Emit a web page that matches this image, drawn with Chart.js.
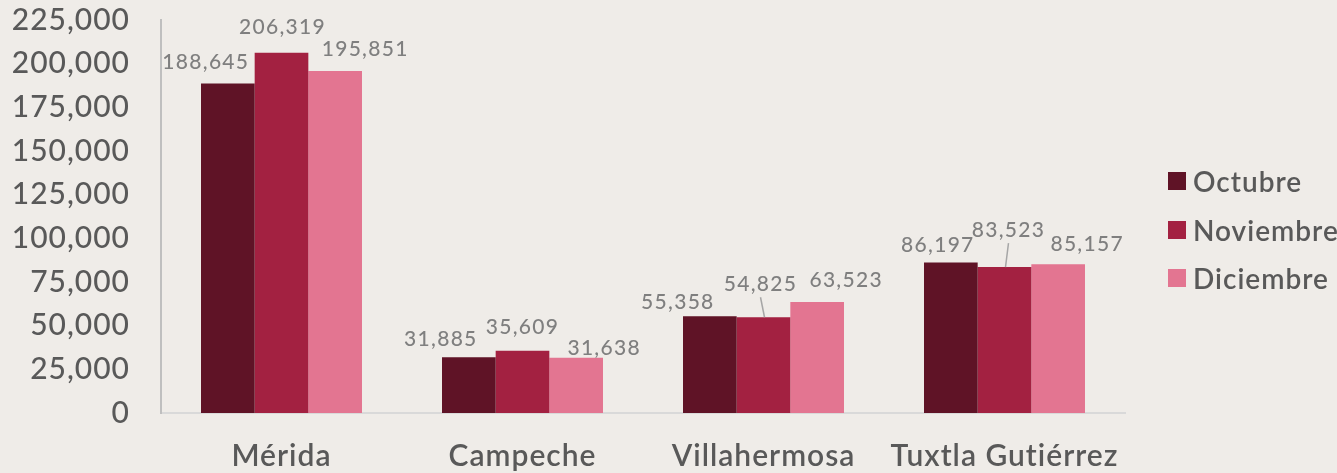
<!DOCTYPE html>
<html>
<head>
<meta charset="utf-8">
<script src="https://cdn.jsdelivr.net/npm/chart.js@4/dist/chart.umd.min.js"></script>
<style>
  html, body { margin: 0; padding: 0; background: #efece8; }
  #wrap { position: relative; width: 1337px; height: 473px; }
  #legend { position: absolute; left: 1168px; top: 157px; font-family: Lato, sans-serif;
            font-size: 28px; font-weight: 600; color: #595959; letter-spacing: 1px; }
  #legend div { height: 48.5px; display: flex; align-items: center; white-space: nowrap; }
  #legend span { display: inline-block; width: 18px; height: 18px; margin-right: 7px; }
</style>
</head>
<body>
<div id="wrap">
  <canvas id="myChart" width="1337" height="473"></canvas>
  <div id="legend"></div>
</div>
<script>
var cities = ['Mérida', 'Campeche', 'Villahermosa', 'Tuxtla Gutiérrez'];
var months = ['Octubre', 'Noviembre', 'Diciembre'];
var octubre = [188645, 31885, 55358, 86197];
var noviembre = [206319, 35609, 54825, 83523];
var diciembre = [195851, 31638, 63523, 85157];
var colors = ['#5f1326', '#a32141', '#e37591'];

// label nudges (px) relative to the top centre of each bar
var labelDx = [[-22, -28, -32, -13], [1, 0, -3, 4], [30, 28, 29, 29]];
var labelDy = [[-21, -18, -14, -17], [-25, -24, -33, -37], [-22, -10, -22, -20]];

// text in the reference is a little wider, so space the letters out
var spacing = {
    id: 'spacing',
    beforeLayout: function(chart) { chart.ctx.letterSpacing = '1px'; },
    beforeDraw: function(chart) { chart.ctx.letterSpacing = '1px'; }
};

var valueLabels = {
    id: 'valueLabels',
    afterDatasetsDraw: function(chart) {
        var ctx = chart.ctx;
        ctx.save();
        ctx.font = '500 21px Lato';
        ctx.letterSpacing = '1.3px';
        ctx.fillStyle = '#7f7f7f';
        ctx.strokeStyle = '#a6a6a6';
        ctx.lineWidth = 1.5;
        ctx.textAlign = 'center';
        ctx.textBaseline = 'middle';
        chart.data.datasets.forEach(function(ds, i) {
            chart.getDatasetMeta(i).data.forEach(function(bar, j) {
                var x = bar.x + labelDx[i][j];
                var y = bar.y + labelDy[i][j];
                ctx.fillText(ds.data[j].toLocaleString('en-US'), x, y);
                if (labelDy[i][j] < -30) {
                    ctx.beginPath();
                    ctx.moveTo(x, y + 13);
                    ctx.lineTo(bar.x + 1, bar.y);
                    ctx.stroke();
                }
            });
        });
        ctx.restore();
    }
};

var ctx = document.getElementById('myChart').getContext('2d');
var myChart = new Chart(ctx, {
    type: 'bar',
    data: {
        labels: cities,
        datasets: [
            { label: months[0], data: octubre, backgroundColor: colors[0] },
            { label: months[1], data: noviembre, backgroundColor: colors[1] },
            { label: months[2], data: diciembre, backgroundColor: colors[2] }
        ]
    },
    options: {
        responsive: false,
        animation: false,
        layout: { padding: { top: 20, right: 212, left: 0, bottom: 0 } },
        datasets: { bar: { barPercentage: 1, categoryPercentage: 0.668 } },
        plugins: { legend: { display: false }, tooltip: { enabled: false } },
        scales: {
            x: {
                grid: { display: false },
                border: { color: '#d9d9d9', width: 2 },
                ticks: { color: '#595959', padding: 17, font: { family: 'Lato', size: 30, weight: '600' } },
                afterFit: function(s) { s.height = 60; s.paddingLeft = 0; s.paddingRight = 0; }
            },
            y: {
                min: 0, max: 225000,
                grid: { display: false, drawTicks: false },
                border: { color: '#bfbfbf', width: 2 },
                ticks: {
                    stepSize: 25000, color: '#595959', padding: 31,
                    font: { family: 'Lato', size: 30, weight: '500' },
                    callback: function(v) { return v.toLocaleString('en-US'); }
                },
                afterFit: function(s) { s.width = 161; s.paddingTop = 0; s.paddingBottom = 0; }
            }
        }
    },
    plugins: [spacing, valueLabels]
});

var legend = document.getElementById('legend');
myChart.data.datasets.forEach(function(ds) {
    var row = document.createElement('div');
    var box = document.createElement('span');
    box.style.background = ds.backgroundColor;
    row.appendChild(box);
    row.appendChild(document.createTextNode(ds.label));
    legend.appendChild(row);
});
</script>
</body>
</html>
